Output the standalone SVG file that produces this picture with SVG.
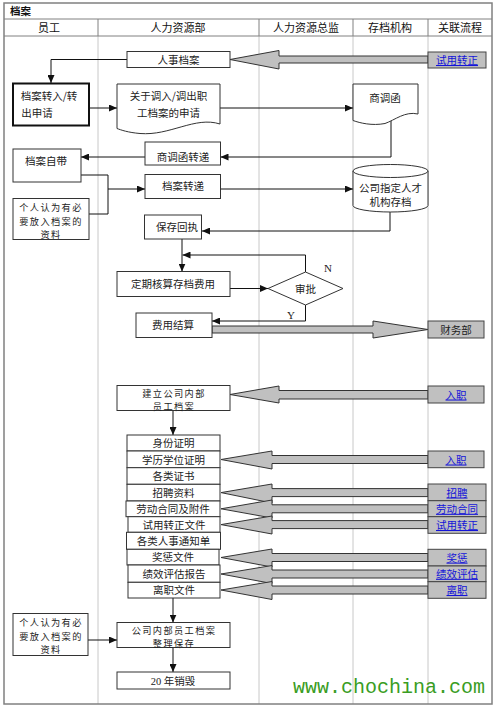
<svg xmlns="http://www.w3.org/2000/svg" width="494" height="706" viewBox="0 0 494 706">
<defs>
<style>
.box{fill:#fff;stroke:#333;stroke-width:1}
.bold{fill:#fff;stroke:#111;stroke-width:2}
.t{font-family:"Noto Sans CJK SC","Liberation Sans",sans-serif;font-size:10.5px;fill:#222;text-anchor:middle}
.s{font-size:9.2px;letter-spacing:1.4px}
.h{font-family:"Noto Sans CJK SC","Liberation Sans",sans-serif;font-size:11px;fill:#111;text-anchor:middle}
.link{fill:#1414d8;text-decoration:underline}
.rel{fill:#c0c0c0;stroke:#444;stroke-width:1}
.fat{fill:#c0c0c0;stroke:#333;stroke-width:1}
.ln{stroke:#111;fill:none;stroke-width:1}
.lane{stroke:#c8c8c8;stroke-width:1}
.hd{stroke:#808080;stroke-width:1}
.yn{font-family:"Liberation Serif",serif;font-size:11px;fill:#222}
</style>
<marker id="ah" markerUnits="userSpaceOnUse" markerWidth="8" markerHeight="7" refX="8" refY="3.5" orient="auto">
<path d="M0,0 L8,3.5 L0,7 Z" fill="#111"/>
</marker>
</defs>
<rect width="494" height="706" fill="#fff"/>
<g id="frame">
<line class="lane" x1="98" y1="36" x2="98" y2="704"/>
<line class="lane" x1="259" y1="36" x2="259" y2="704"/>
<line class="lane" x1="353" y1="36" x2="353" y2="704"/>
<line class="lane" x1="428" y1="36" x2="428" y2="704"/>
<line class="hd" x1="98" y1="19" x2="98" y2="36"/>
<line class="hd" x1="259" y1="19" x2="259" y2="36"/>
<line class="hd" x1="353" y1="19" x2="353" y2="36"/>
<line class="hd" x1="428" y1="19" x2="428" y2="36"/>
<line class="hd" x1="4" y1="19" x2="492" y2="19"/>
<line class="hd" x1="4" y1="36" x2="492" y2="36"/>
<rect x="4" y="3" width="488" height="701" fill="none" stroke="#808080" stroke-width="1.5"/>
<text x="10" y="15" font-family="Noto Sans CJK SC,sans-serif" font-size="10.5" font-weight="bold" fill="#111">档案</text>
<text class="h" x="49" y="31.5">员工</text>
<text class="h" x="178" y="31.5">人力资源部</text>
<text class="h" x="306" y="31.5">人力资源总监</text>
<text class="h" x="390" y="31.5">存档机构</text>
<text class="h" x="460" y="31.5">关联流程</text>
</g>
<g id="fat-arrows">
<path class="fat" d="M230,59.5 L279,50.5 L279,56 L428,56 L428,63 L279,63 L279,69 Z"/>
<path class="fat" d="M212,326 L373,326 L373,321 L428,329.5 L373,338 L373,333 L212,333 Z"/>
<path class="fat" d="M230,394.5 L279,386 L279,390.5 L428,390.5 L428,399 L279,399 L279,403 Z"/>
<path class="fat" d="M221,459.5 L272,451 L272,455.5 L428,455.5 L428,463.5 L272,463.5 L272,469 Z"/>
<path class="fat" d="M221,492.6 L272,484 L272,488.6 L428,488.6 L428,496.6 L272,496.6 L272,503 Z"/>
<path class="fat" d="M221,508.8 L272,500 L272,504.8 L428,504.8 L428,512.8 L272,512.8 L272,518 Z"/>
<path class="fat" d="M221,524.6 L272,516 L272,520.6 L428,520.6 L428,528.6 L272,528.6 L272,534 Z"/>
<path class="fat" d="M221,557.5 L272,549 L272,553.5 L428,553.5 L428,561.5 L272,561.5 L272,567 Z"/>
<path class="fat" d="M221,574 L272,565.5 L272,570 L428,570 L428,578 L272,578 L272,583.5 Z"/>
<path class="fat" d="M221,590 L272,581.5 L272,586 L428,586 L428,594 L272,594 L272,599.5 Z"/>
</g>
<g id="connectors">
<path class="ln" d="M127,59.5 H51 V83" marker-end="url(#ah)"/>
<path class="ln" d="M89,108 H117" marker-end="url(#ah)"/>
<path class="ln" d="M220,108 H353" marker-end="url(#ah)"/>
<path class="ln" d="M391,117 V157 H220.5" marker-end="url(#ah)"/>
<path class="ln" d="M145,157 H81" marker-end="url(#ah)"/>
<path class="ln" d="M81,175 H108 V214 H89"/>
<path class="ln" d="M108,189 H145" marker-end="url(#ah)"/>
<path class="ln" d="M220,189 H353" marker-end="url(#ah)"/>
<path class="ln" d="M390,212 V231 H202" marker-end="url(#ah)"/>
<path class="ln" d="M182,239 V271.5" marker-end="url(#ah)"/>
<path class="ln" d="M305.5,272 V255 H182.5" marker-end="url(#ah)"/>
<path class="ln" d="M230,288.5 H268" marker-end="url(#ah)"/>
<path class="ln" d="M305.5,305 V321 H212" marker-end="url(#ah)"/>
<path class="ln" d="M173,410.5 V435" marker-end="url(#ah)"/>
<path class="ln" d="M173,598 V622.5" marker-end="url(#ah)"/>
<path class="ln" d="M88,640 H117" marker-end="url(#ah)"/>
<path class="ln" d="M173,648 V672" marker-end="url(#ah)"/>
<text class="yn" x="324" y="272">N</text>
<text class="yn" x="287" y="319">Y</text>
</g>
<g id="n-renshi">
<rect class="box" x="127" y="51.5" width="103" height="16"/>
<text class="t" x="178.5" y="63.5">人事档案</text>
</g>
<g id="l-shiyong1">
<rect class="rel" x="428" y="52" width="58" height="16"/>
<text class="t link" x="457" y="64">试用转正</text>
</g>
<g id="n-zhuanru">
<rect class="bold" x="13" y="83.5" width="76" height="42"/>
<text class="t" x="49" y="100">档案转入/转</text>
<text class="t" x="37" y="117">出申请</text>
</g>
<g id="n-guanyu">
<path class="box" d="M117,84 H220 V124 C195,116 170,136 140,133.5 C128,132.5 121,130 117,128.5 Z"/>
<text class="t" x="168.5" y="100">关于调入/调出职</text>
<text class="t" x="168.5" y="117">工档案的申请</text>
</g>
<g id="n-shangdiao">
<path class="box" d="M353,84 H418 V114 C405,111 395,120 385,123.5 C372,126 360,123 353,120.5 Z"/>
<text class="t" x="385" y="102">商调函</text>
</g>
<g id="n-shangdiaozhuandi">
<rect class="box" x="145" y="142" width="75.5" height="23"/>
<text class="t" x="183" y="161">商调函转递</text>
</g>
<g id="n-zidai">
<rect class="box" x="13" y="149" width="68" height="33"/>
<text class="t" x="46" y="165">档案自带</text>
</g>
<g id="n-geren1">
<rect class="box" x="13" y="198.5" width="76" height="41"/>
<text class="t s" x="51" y="211">个人认为有必</text>
<text class="t s" x="51" y="224.5">要放入档案的</text>
<text class="t s" x="51" y="238">资料</text>
</g>
<g id="n-zhuandi">
<rect class="box" x="145" y="174.5" width="75.5" height="24"/>
<text class="t" x="183" y="190">档案转递</text>
</g>
<g id="n-cunfang">
<path class="box" d="M353,171 V205.5 A37.5,6.5 0 0 0 428,205.5 V171"/>
<ellipse class="box" cx="390.5" cy="171" rx="37.5" ry="6.5"/>
<text class="t" x="390.5" y="192">公司指定人才</text>
<text class="t" x="390.5" y="206">机构存档</text>
</g>
<g id="n-huizhi">
<rect class="box" x="144.5" y="215" width="57" height="24"/>
<text class="t" x="177" y="231">保存回执</text>
</g>
<g id="n-hesuan">
<rect class="box" x="117" y="271.5" width="113" height="25"/>
<text class="t" x="173" y="288">定期核算存档费用</text>
</g>
<g id="n-shenpi">
<path class="box" d="M268,288.5 L305.5,272 L343,288.5 L305.5,305 Z"/>
<text class="t" x="305.5" y="293">审批</text>
</g>
<g id="n-jiesuan">
<rect class="box" x="136" y="313" width="76" height="24.5"/>
<text class="t" x="173" y="329">费用结算</text>
</g>
<g id="l-caiwu">
<rect class="rel" x="428" y="321" width="56" height="17"/>
<text class="t" x="456" y="333.5">财务部</text>
</g>
<g id="n-jianli">
<rect class="box" x="117" y="385.5" width="113" height="25"/>
<text class="t s" x="174" y="396.5">建立公司内部</text>
<text class="t s" x="174" y="410">员工档案</text>
</g>
<g id="l-ruzhi1">
<rect class="rel" x="428" y="386" width="56" height="17"/>
<text class="t link" x="456" y="398.5">入职</text>
</g>
<g id="n-stack">
<rect class="box" x="127" y="435" width="93" height="16"/>
<text class="t" x="173.5" y="447">身份证明</text>
<rect class="box" x="127" y="451" width="93" height="16.7"/>
<text class="t" x="173.5" y="463.5">学历学位证明</text>
<rect class="box" x="127" y="467.7" width="93" height="16.6"/>
<text class="t" x="173.5" y="480">各类证书</text>
<rect class="box" x="127" y="484.3" width="93" height="16.7"/>
<text class="t" x="173.5" y="496.6">招聘资料</text>
<rect class="box" x="126" y="501" width="94" height="15.7"/>
<text class="t" x="173" y="512.8">劳动合同及附件</text>
<rect class="box" x="128" y="516.7" width="92" height="15.6"/>
<text class="t" x="174" y="528.5">试用转正文件</text>
<rect class="box" x="126.5" y="532.3" width="94" height="17"/>
<text class="t" x="173.5" y="544.8">各类人事通知单</text>
<rect class="box" x="127" y="549.3" width="92" height="15.7"/>
<text class="t" x="173" y="561.2">奖惩文件</text>
<rect class="box" x="128" y="565" width="92" height="17.3"/>
<text class="t" x="174" y="577.6">绩效评估报告</text>
<rect class="box" x="128" y="582.3" width="92" height="15.7"/>
<text class="t" x="174" y="594.2">离职文件</text>
</g>
<g id="l-ruzhi2">
<rect class="rel" x="428" y="451" width="56" height="16.7"/>
<text class="t link" x="456" y="463.5">入职</text>
</g>
<g id="l-zhaopin">
<rect class="rel" x="428" y="484" width="58" height="16.7"/>
<text class="t link" x="457" y="496.5">招聘</text>
</g>
<g id="l-laodong">
<rect class="rel" x="428" y="500.7" width="58" height="16"/>
<text class="t link" x="457" y="512.8">劳动合同</text>
</g>
<g id="l-shiyong2">
<rect class="rel" x="428" y="516.7" width="58" height="16.6"/>
<text class="t link" x="457" y="529">试用转正</text>
</g>
<g id="l-jiangcheng">
<rect class="rel" x="428" y="549.3" width="58" height="16.7"/>
<text class="t link" x="457" y="561.6">奖惩</text>
</g>
<g id="l-jixiao">
<rect class="rel" x="428" y="566" width="58" height="15.7"/>
<text class="t link" x="457" y="577.8">绩效评估</text>
</g>
<g id="l-lizhi">
<rect class="rel" x="428" y="581.7" width="58" height="16.6"/>
<text class="t link" x="457" y="594">离职</text>
</g>
<g id="n-geren2">
<rect class="box" x="13" y="613.5" width="75" height="42"/>
<text class="t s" x="51" y="626">个人认为有必</text>
<text class="t s" x="51" y="639.5">要放入档案的</text>
<text class="t s" x="51" y="653">资料</text>
</g>
<g id="n-zhengli">
<rect class="box" x="117" y="622.5" width="113" height="25"/>
<text class="t s" x="174" y="633.5">公司内部员工档案</text>
<text class="t s" x="174" y="647">整理保存</text>
</g>
<g id="n-xiaohui">
<rect class="box" x="117" y="672" width="113" height="17"/>
<text x="173" y="684.5" text-anchor="middle" font-size="10.5" fill="#222"><tspan font-family="Liberation Serif,serif">20 </tspan><tspan font-family="Noto Sans CJK SC,sans-serif">年销毁</tspan></text>
</g>
<text x="293" y="693" font-family="Liberation Mono,monospace" font-size="20" fill="#3a9d23">www.chochina.com</text>
</svg>
